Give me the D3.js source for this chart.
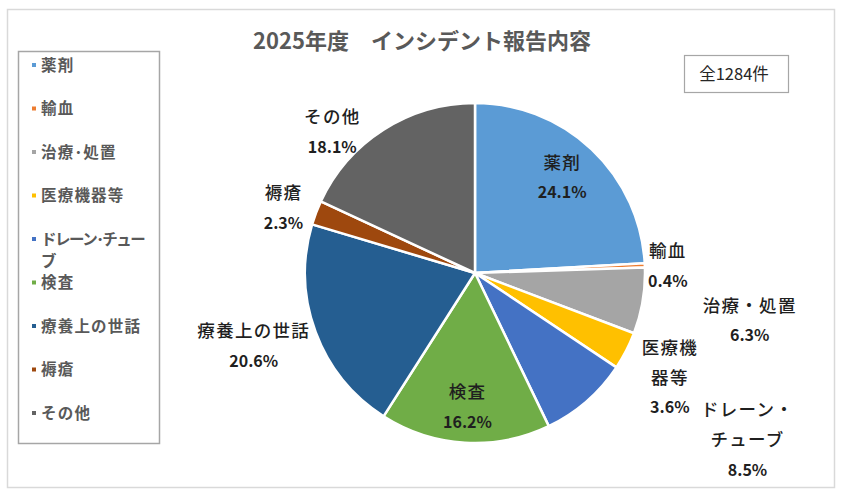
<!DOCTYPE html>
<html>
<head>
<meta charset="utf-8">
<script src="https://cdn.jsdelivr.net/npm/d3@7"></script>
<style>
  body { margin: 0; background: #fff; }
  text { font-family: "Noto Sans CJK JP", "Noto Sans", sans-serif; }
</style>
</head>
<body>
<div id="chart-area"></div>
<script>
// data
var categories = ['薬剤', '輸血', '治療・処置', '医療機器等', 'ドレーン・チューブ', '検査', '療養上の世話', '褥瘡', 'その他'];
var shares = [24.1, 0.4, 6.3, 3.6, 8.5, 16.2, 20.6, 2.3, 18.1];
var labelLines = [['薬剤'], ['輸血'], ['治療・処置'], ['医療機', '器等'], ['ドレーン・', 'チューブ'], ['検査'], ['療養上の世話'], ['褥瘡'], ['その他']];
var legendLines = [['薬剤'], ['輸血'], ['治療･処置'], ['医療機器等'], ['ドレーン･チュー', 'ブ'], ['検査'], ['療養上の世話'], ['褥瘡'], ['その他']];
var totalCount = 1284;
var title = '2025年度　インシデント報告内容';

var colors = ['#5b9bd5', '#ed7d31', '#a5a5a5', '#ffc000', '#4472c4', '#70ad47', '#255e91', '#9e480e', '#636363'];

// label placement: radius as fraction of pie radius, angle shift in degrees
var labelPlacement = [
    [0.76, -0.9], [1.135, 0.5], [1.64, 0.4], [1.30, 0.9], [1.88, -17.5],
    [0.79, -0.2], [1.37, 2.2], [1.19, -2], [1.18, -12.8]
];

var width = 843;
var height = 500;
var cx = 475;
var cy = 273;
var radius = 170;

var svg = d3.select('#chart-area')
    .append('svg')
    .attr('width', width)
    .attr('height', height);

// outer frame
svg.append('rect')
    .attr('x', 7.5)
    .attr('y', 9.5)
    .attr('width', 827)
    .attr('height', 478)
    .attr('fill', '#fff')
    .attr('stroke', '#d9d9d9')
    .attr('stroke-width', 1.5);

svg.append('text')
    .attr('x', 422)
    .attr('y', 49)
    .attr('text-anchor', 'middle')
    .attr('font-size', '22px')
    .attr('font-weight', 700)
    .attr('fill', '#595959')
    .text(title);

// total box
svg.append('rect')
    .attr('x', 684.5)
    .attr('y', 55.5)
    .attr('width', 104)
    .attr('height', 37)
    .attr('fill', '#fff')
    .attr('stroke', '#a6a6a6')
    .attr('stroke-width', 1.2);

svg.append('text')
    .attr('x', 734)
    .attr('y', 74)
    .attr('dy', '0.35em')
    .attr('text-anchor', 'middle')
    .attr('font-size', '16.5px')
    .attr('fill', '#262626')
    .text('全' + totalCount + '件');

var pie = d3.pie().sort(null).value(d => d);
var arcs = pie(shares);

var arc = d3.arc().innerRadius(0).outerRadius(radius);

var g = svg.append('g')
    .attr('transform', 'translate(' + cx + ',' + cy + ')');

g.selectAll('path')
    .data(arcs)
    .enter()
    .append('path')
    .attr('d', arc)
    .attr('fill', (d, i) => colors[i])
    .attr('stroke', '#fff')
    .attr('stroke-width', 2.5)
    .attr('stroke-linejoin', 'round');

var lineGap = 30;

var labels = g.selectAll('g.label')
    .data(arcs)
    .enter()
    .append('g')
    .attr('class', 'label')
    .attr('transform', (d, i) => {
        var a = (d.startAngle + d.endAngle) / 2 + labelPlacement[i][1] * Math.PI / 180;
        var r = labelPlacement[i][0] * radius;
        return 'translate(' + (r * Math.sin(a)) + ',' + (-r * Math.cos(a)) + ')';
    });

labels.each(function (d, i) {
    var lines = labelLines[i].concat([shares[i].toFixed(1) + '%']);
    var top = -(lines.length - 1) * lineGap / 2;
    d3.select(this).selectAll('text')
        .data(lines)
        .enter()
        .append('text')
        .attr('x', 0)
        .attr('y', (t, j) => top + j * lineGap)
        .attr('dy', '0.36em')
        .attr('text-anchor', 'middle')
        .attr('font-size', (t, j) => j === lines.length - 1 ? '16px' : '17.5px')
        .attr('font-weight', (t, j) => j === lines.length - 1 ? 700 : 500)
        .attr('letter-spacing', (t, j) => j === lines.length - 1 ? 0 : '1.3px')
        .attr('fill', '#1f1f1f')
        .text(t => t);
});

// legend
svg.append('rect')
    .attr('x', 18.5)
    .attr('y', 51.5)
    .attr('width', 141)
    .attr('height', 392)
    .attr('fill', '#fff')
    .attr('stroke', '#a6a6a6')
    .attr('stroke-width', 1.5);

var legendY = d3.scaleLinear()
    .domain([0, categories.length - 1])
    .range([65, 413]);

var legend = svg.selectAll('g.legend')
    .data(categories)
    .enter()
    .append('g')
    .attr('class', 'legend')
    .attr('transform', (d, i) => 'translate(0,' + legendY(i) + ')');

legend.append('rect')
    .attr('x', 32)
    .attr('y', -2)
    .attr('width', 4)
    .attr('height', 4)
    .attr('fill', (d, i) => colors[i]);

var legendMaxWidth = 106;

legend.each(function (d, i) {
    d3.select(this).selectAll('text')
        .data(legendLines[i])
        .enter()
        .append('text')
        .attr('x', 41)
        .attr('y', (t, j) => j * 22)
        .attr('dy', '0.36em')
        .attr('font-size', '15.5px')
        .attr('font-weight', 700)
        .attr('letter-spacing', '1.2px')
        .attr('fill', '#595959')
        .text(t => t)
        .each(function () {
            // squeeze lines that run past the legend box
            if (this.getComputedTextLength() > legendMaxWidth) {
                d3.select(this)
                    .attr('textLength', legendMaxWidth)
                    .attr('lengthAdjust', 'spacing');
            }
        });
});
</script>
</body>
</html>
